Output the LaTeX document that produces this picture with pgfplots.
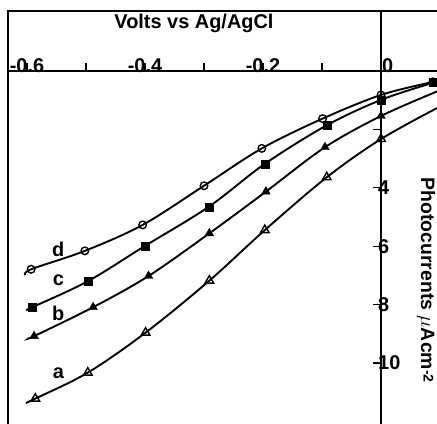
\documentclass[border=0pt]{standalone}
\usepackage{pgfplots}
\pgfplotsset{compat=1.18}
\usepackage{fontspec}
\setmainfont{Liberation Sans}
\newcommand{\lab}{\bfseries\fontsize{20}{24}\selectfont}
\newcommand{\ylab}{\bfseries\fontsize{19.5}{23}\selectfont}
\begin{document}
\begin{tikzpicture}
\begin{axis}[
  scale only axis, width=429bp, height=413bp,
  xmin=-0.6322, xmax=0.0949, ymin=-2.055, ymax=12.089,
  y dir=reverse, clip=false,
  axis lines=middle, axis line style={-, line width=1.5bp},
  hide obscured x ticks=false, hide obscured y ticks=false,
  xtick={-0.6,-0.5,-0.4,-0.3,-0.2,-0.1},
  xticklabels={-0.6,,-0.4,,-0.2,},
  extra x ticks={0}, extra x tick labels={0},
  extra x tick style={xticklabel style={anchor=south west, xshift=0bp}},
  ytick={2,4,6,8,10}, yticklabels={,4,6,8,10},
  xticklabel style={anchor=south, font=\lab, inner sep=1bp, yshift=1bp},
  yticklabel style={anchor=west, font=\lab, inner sep=1bp},
  tick align=center,
  major tick length=8bp,
  xtick style={line width=1.2bp, black, yshift=4bp},
  ytick style={line width=1.2bp, black, xshift=-4bp},
]
\draw[line width=1.5bp] (axis cs:-0.6322,12.089) -- (axis cs:-0.6322,-2.055) -- (axis cs:0.0949,-2.055);
\coordinate (TL) at (axis cs:-0.6458,-2.432);
\coordinate (BR) at (axis cs:0.0949,12.089);

% curve d
\addplot[black, line width=1.9bp, smooth, tension=0.55] coordinates {
(-0.603,6.99) (-0.593,6.79) (-0.502,6.16) (-0.404,5.27) (-0.300,3.93) (-0.202,2.65) (-0.099,1.63) (0,0.82) (0.088,0.37) (0.0949,0.33)};
\addplot[only marks, mark=o, mark size=3.8bp, mark options={line width=1.4bp, fill=white}] coordinates {
(-0.593,6.79) (-0.502,6.16) (-0.404,5.27) (-0.300,3.93) (-0.202,2.65) (-0.099,1.63) (0,0.82) (0.088,0.37)};
% curve c
\addplot[black, line width=1.9bp, smooth, tension=0.55] coordinates {
(-0.600,8.18) (-0.591,8.09) (-0.497,7.20) (-0.400,5.99) (-0.292,4.65) (-0.197,3.18) (-0.092,1.86) (0,0.99) (0.088,0.40) (0.0949,0.36)};
\addplot[only marks, mark=square*, mark size=4bp] coordinates {
(-0.591,8.09) (-0.497,7.20) (-0.400,5.99) (-0.292,4.65) (-0.197,3.18) (-0.092,1.86) (0,0.99) (0.088,0.40)};
% curve b
\addplot[black, line width=1.9bp, smooth, tension=0.55] coordinates {
(-0.597,9.14) (-0.588,9.08) (-0.488,8.09) (-0.394,7.02) (-0.291,5.56) (-0.195,4.13) (-0.095,2.61) (0,1.54) (0.0949,0.70)};
\addplot[only marks, mark=triangle*, mark size=5bp] coordinates {
(-0.588,9.08) (-0.488,8.09) (-0.394,7.02) (-0.291,5.56) (-0.195,4.13) (-0.095,2.61) (0,1.54)};
% curve a
\addplot[black, line width=1.9bp, smooth, tension=0.55] coordinates {
(-0.602,11.37) (-0.586,11.22) (-0.497,10.33) (-0.399,8.96) (-0.291,7.18) (-0.197,5.45) (-0.092,3.64) (0,2.33) (0.0949,1.27)};
\addplot[only marks, mark=triangle, mark size=5bp, mark options={line width=1.4bp, fill=white}] coordinates {
(-0.586,11.22) (-0.497,10.33) (-0.399,8.96) (-0.291,7.18) (-0.197,5.45) (-0.092,3.64) (0,2.33)};

\node[font=\lab] at (axis cs:-0.547,6.10) {d};
\node[font=\lab] at (axis cs:-0.547,7.16) {c};
\node[font=\lab] at (axis cs:-0.547,8.29) {b};
\node[font=\lab] at (axis cs:-0.547,10.34) {a};
\node[font=\lab] at (axis cs:-0.317,-1.64) {Volts vs Ag/AgCl};
\node[font=\ylab, rotate=-90, inner sep=0pt] at (axis cs:0.0765,7.16) {Photocurrents $\mu$Acm\raisebox{0.25ex}{\fontsize{14}{14}\selectfont -2}};
\end{axis}
\pgfresetboundingbox
\path[use as bounding box] (TL) rectangle (BR);
\end{tikzpicture}
\end{document}
